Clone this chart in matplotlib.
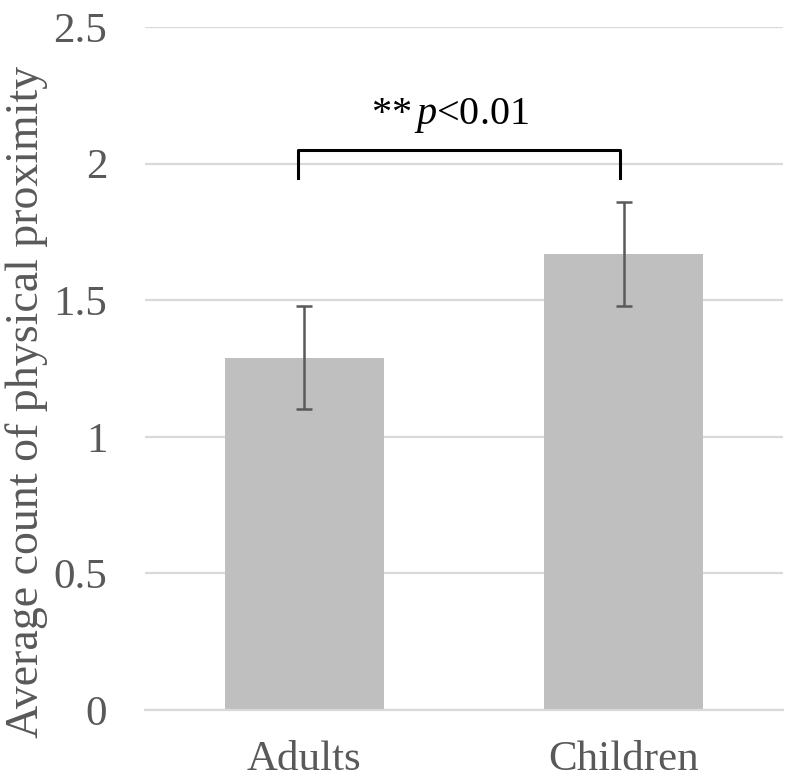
import numpy as np
import matplotlib
matplotlib.use("Agg")
import matplotlib.pyplot as plt

groups = ["Adults", "Children"]
means = [1.29, 1.67]
errors = [0.19, 0.19]
yticks = [0, 0.5, 1, 1.5, 2, 2.5]
ytick_labels = ["0", "0.5", "1", "1.5", "2", "2.5"]

plt.rcParams["font.family"] = "Liberation Serif"
plt.rcParams["mathtext.fontset"] = "custom"
plt.rcParams["mathtext.rm"] = "Liberation Serif"
plt.rcParams["mathtext.it"] = "Liberation Serif:italic"

text_grey = "#595959"
grid_grey = "#d9d9d9"

fig = plt.figure(figsize=(8, 7.83), dpi=100)
ax = fig.add_axes([0.181, 0.0932, 0.798, 0.8723])

x = np.arange(len(groups))
ax.bar(x, means, width=0.5, color="#bfbfbf", zorder=2)
ax.errorbar(x, means, yerr=errors, fmt="none", ecolor=text_grey,
            elinewidth=1.8, capsize=6, capthick=1.8, zorder=3)

ax.set_xlim(-0.5, 1.5)
ax.set_ylim(0, 2.5)
ax.set_yticks(yticks)
ax.set_yticklabels(ytick_labels)
ax.set_xticks(x)
ax.set_xticklabels(groups)
ax.tick_params(axis="both", length=0, labelsize=31, colors=text_grey)
ax.tick_params(axis="y", pad=27)
ax.tick_params(axis="x", pad=22)
ax.grid(axis="y", color=grid_grey, linewidth=1.6, zorder=0)
for s in ["top", "right", "left"]:
    ax.spines[s].set_visible(False)
ax.spines["bottom"].set_color(grid_grey)
ax.spines["bottom"].set_linewidth(1.6)

ax.set_ylabel("Average count of physical proximity", fontsize=33,
              color=text_grey)
ax.yaxis.set_label_coords(-0.152, 0.451)

# significance bracket
y_top, y_bot = 2.05, 1.947
ax.plot([-0.02, -0.02, 0.99, 0.99], [y_bot, y_top, y_top, y_bot],
        color="black", linewidth=2.2, zorder=4)
ax.text(0.457, 2.175, r"**$\,\mathit{p}$<0.01", ha="center", va="center",
        fontsize=29, color="black")

fig.savefig("out.png", dpi=100)
